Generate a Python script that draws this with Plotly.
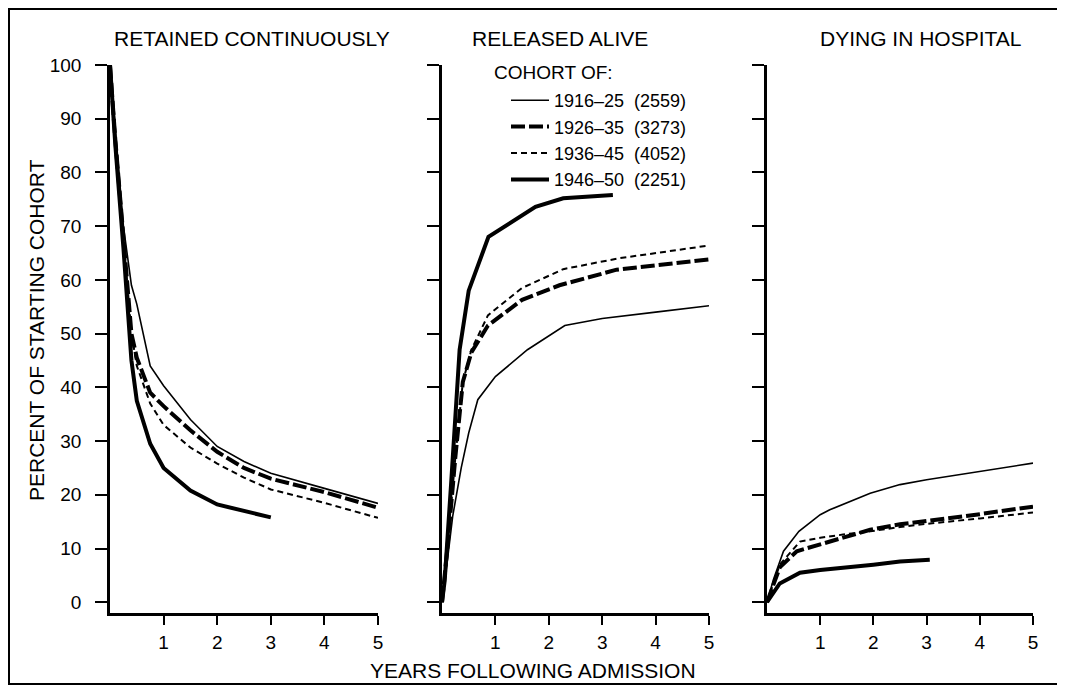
import plotly.graph_objects as go

# ---------------- data ----------------
cohorts = ["1916–25\u00a0\u00a0(2559)", "1926–35\u00a0\u00a0(3273)",
           "1936–45\u00a0\u00a0(4052)", "1946–50\u00a0\u00a0(2251)"]

panel_titles = ["RETAINED CONTINUOUSLY", "RELEASED ALIVE", "DYING IN HOSPITAL"]
y_tick_vals = [0, 10, 20, 30, 40, 50, 60, 70, 80, 90, 100]
x_tick_vals = [1, 2, 3, 4, 5]

# Retained continuously
ret_x_1916 = [0, 0.1, 0.25, 0.4, 0.5, 0.75, 1, 1.5, 2, 2.5, 3, 4, 5]
ret_y_1916 = [100, 88, 70, 59, 55.5, 44, 40.3, 34, 29, 26.2, 24, 21.2, 18.4]
ret_x_1926 = [0, 0.1, 0.25, 0.4, 0.5, 0.75, 1, 1.5, 2, 2.5, 3, 4, 5]
ret_y_1926 = [100, 86, 68, 50, 45.5, 39, 36.5, 32, 28, 25, 23, 20.5, 17.6]
ret_x_1936 = [0, 0.1, 0.25, 0.4, 0.5, 0.75, 1, 1.5, 2, 2.5, 3, 4, 5]
ret_y_1936 = [100, 86, 68, 50, 44, 37, 33, 28.8, 25.8, 23.2, 21, 18.5, 15.7]
ret_x_1946 = [0, 0.1, 0.25, 0.4, 0.5, 0.75, 1, 1.5, 2, 2.5, 3]
ret_y_1946 = [100, 85, 66, 45, 37.5, 29.5, 25, 20.8, 18.2, 17, 15.8]

# Released alive
rel_x_1916 = [0, 0.05, 0.2, 0.36, 0.5, 0.67, 1, 1.3, 1.6, 2.3, 3, 4, 5]
rel_y_1916 = [0, 3.6, 16, 25, 31.5, 37.7, 42, 44.5, 47, 51.5, 52.8, 54, 55.2]
rel_x_1926 = [0, 0.1, 0.25, 0.39, 0.55, 0.86, 1.5, 2.2, 3.27, 5]
rel_y_1926 = [0, 10, 27, 41, 46.5, 51.5, 56.3, 59, 61.9, 63.8]
rel_x_1936 = [0, 0.1, 0.25, 0.39, 0.55, 0.86, 1.5, 2.27, 3.3, 5]
rel_y_1936 = [0, 10, 27, 41, 47, 53.4, 58.5, 62, 64, 66.4]
rel_x_1946 = [0, 0.05, 0.17, 0.33, 0.5, 0.75, 0.87, 1.75, 2.27, 3.2]
rel_y_1946 = [0, 4, 22, 47, 58, 64.5, 68, 73.6, 75.2, 75.8]

# Dying in hospital
die_x_1916 = [0, 0.12, 0.31, 0.6, 1, 1.18, 1.94, 2.5, 3, 4, 5]
die_y_1916 = [0, 4.2, 9.5, 13.2, 16.3, 17.2, 20.3, 21.9, 22.8, 24.3, 25.9]
die_x_1926 = [0, 0.24, 0.56, 1, 1.43, 1.94, 2.5, 3, 4, 5]
die_y_1926 = [0, 6.5, 9.5, 10.8, 11.9, 13.5, 14.5, 15.1, 16.4, 17.8]
die_x_1936 = [0, 0.24, 0.62, 1, 1.43, 1.94, 2.5, 3, 4, 5]
die_y_1936 = [0, 7, 11.3, 12, 12.6, 13.2, 14, 14.6, 15.6, 16.7]
die_x_1946 = [0, 0.24, 0.62, 1, 2, 2.5, 3.06]
die_y_1946 = [0, 3.5, 5.5, 6.0, 7.0, 7.6, 7.9]

panels = [
    [(ret_x_1916, ret_y_1916), (ret_x_1926, ret_y_1926), (ret_x_1936, ret_y_1936), (ret_x_1946, ret_y_1946)],
    [(rel_x_1916, rel_y_1916), (rel_x_1926, rel_y_1926), (rel_x_1936, rel_y_1936), (rel_x_1946, rel_y_1946)],
    [(die_x_1916, die_y_1916), (die_x_1926, die_y_1926), (die_x_1936, die_y_1936), (die_x_1946, die_y_1946)],
]

# ---------------- styling ----------------
line_styles = [
    dict(color="black", width=1.6, dash="solid"),
    dict(color="black", width=4, dash="14px,4px"),
    dict(color="black", width=2, dash="6px,4px"),
    dict(color="black", width=4, dash="solid"),
]
FONT = "Liberation Sans, Arial, Helvetica, sans-serif"

OFF = 8                       # page body margin
W, H = 1065 - OFF, 688 - OFF  # figure size
L = 110 - OFF
T = 65 - OFF
R = W - (1033 - OFF)
B = H - (613 - OFF)
pw = W - L - R
ph = H - T - B

def px_x(px):   # page pixel -> paper x
    return (px - OFF - L) / pw

def px_y(py):   # page pixel -> paper y
    return (H - B - (py - OFF)) / ph

domains = [[0.0, px_x(378)], [px_x(442), px_x(709)], [px_x(767), 1.0]]

fig = go.Figure()
for p, series in enumerate(panels):
    for c, (xs, ys) in enumerate(series):
        sfx = "" if p == 0 else str(p + 1)
        fig.add_trace(go.Scatter(
            x=xs, y=ys, mode="lines", name=cohorts[c],
            line=line_styles[c], legendgroup=cohorts[c],
            showlegend=(p == 0), xaxis="x" + sfx, yaxis="y" + sfx,
            hoverinfo="skip"))

layout = dict(
    width=W, height=H,
    margin=dict(l=L, r=R, t=T, b=B),
    paper_bgcolor="white", plot_bgcolor="white",
    font=dict(family=FONT, color="black", size=18),
    legend=dict(
        x=px_x(506), y=px_y(82), xanchor="left", yanchor="top",
        bgcolor="rgba(0,0,0,0)", borderwidth=0,
        font=dict(size=18, family=FONT),
        traceorder="grouped", tracegroupgap=0, itemwidth=38,
    ),
    showlegend=True,
)

for p in range(3):
    sfx = "" if p == 0 else str(p + 1)
    layout["xaxis" + sfx] = dict(
        domain=domains[p], range=[0, 5], anchor="y" + sfx,
        tickvals=x_tick_vals, ticks="outside", ticklen=9, tickwidth=2,
        tickcolor="black", showline=True, linecolor="black", linewidth=2.5,
        showgrid=False, zeroline=False, tickfont=dict(size=19),
        ticklabelstandoff=1, fixedrange=True)
    layout["yaxis" + sfx] = dict(
        domain=[0, 1], range=[-2, 100], anchor="x" + sfx,
        tickvals=y_tick_vals, ticks="outside", ticklen=12, tickwidth=2,
        tickcolor="black", showline=True, linecolor="black", linewidth=2.5,
        showgrid=False, zeroline=False, tickfont=dict(size=19),
        showticklabels=(p == 0), ticklabelstandoff=10, fixedrange=True)

fig.update_layout(**layout)

title_x_px = [252, 560, 920]
for p in range(3):
    fig.add_annotation(text=panel_titles[p], xref="paper", yref="paper",
                       x=px_x(title_x_px[p]), y=px_y(38), showarrow=False,
                       xanchor="center", yanchor="middle",
                       font=dict(size=21, family=FONT))

fig.add_annotation(text="COHORT OF:", xref="paper", yref="paper",
                   x=px_x(492), y=px_y(72), showarrow=False,
                   xanchor="left", yanchor="middle", font=dict(size=19, family=FONT))

fig.add_annotation(text="PERCENT OF STARTING COHORT", xref="paper", yref="paper",
                   x=px_x(36), y=px_y(330), showarrow=False, textangle=-90,
                   xanchor="center", yanchor="middle", font=dict(size=21, family=FONT))
fig.add_annotation(text="YEARS FOLLOWING ADMISSION", xref="paper", yref="paper",
                   x=px_x(533), y=px_y(670), showarrow=False,
                   xanchor="center", yanchor="middle", font=dict(size=21, family=FONT))

# outer frame
fig.add_shape(type="rect", xref="paper", yref="paper",
              x0=px_x(OFF + 1), x1=px_x(1061), y0=px_y(684), y1=px_y(OFF + 1),
              line=dict(color="black", width=2), fillcolor="rgba(0,0,0,0)", layer="above")

fig.write_html("out.html")
